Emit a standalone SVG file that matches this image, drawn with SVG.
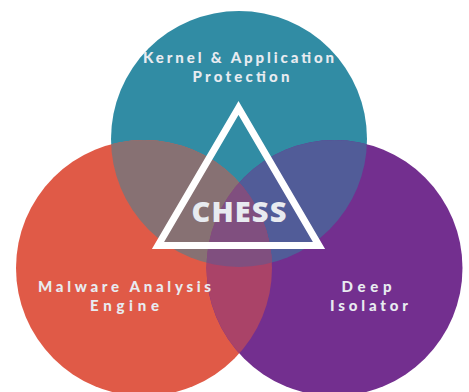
<svg xmlns="http://www.w3.org/2000/svg" width="469" height="392" viewBox="0 0 469 392">
<defs>
<clipPath id="cT"><circle cx="239" cy="139" r="128"/></clipPath>
<clipPath id="cO"><circle cx="144" cy="268" r="128"/></clipPath>
<style>
.lbl{font-family:Lato,"Open Sans","Liberation Sans",sans-serif;font-weight:900;font-size:15px;fill:#E8EBF0;text-anchor:middle}
.title{font-family:"Open Sans","Liberation Sans",sans-serif;font-weight:800;font-size:29px;fill:#E8EBF0;text-anchor:middle}
</style>
</defs>
<rect width="469" height="392" fill="#ffffff"/>
<g id="kernel">
<circle cx="239" cy="139" r="128" fill="#318CA4"/>
</g>
<g id="malware">
<circle cx="144" cy="268" r="128" fill="#E05A47"/>
</g>
<g id="isolator">
<circle cx="334.5" cy="268" r="128" fill="#732F8F"/>
</g>
<g id="overlaps">
<circle cx="144" cy="268" r="128" fill="#877173" clip-path="url(#cT)"/>
<circle cx="334.5" cy="268" r="128" fill="#515C98" clip-path="url(#cT)"/>
<circle cx="334.5" cy="268" r="128" fill="#AA4368" clip-path="url(#cO)"/>
<g clip-path="url(#cT)"><circle cx="334.5" cy="268" r="128" fill="#804F7F" clip-path="url(#cO)"/></g>
</g>
<g id="chess">
<polygon points="238.5,108 158,245.5 319,245.5" fill="none" stroke="#ffffff" stroke-width="7" stroke-linejoin="miter"/>
<text class="title" x="239" y="221.5" textLength="95" lengthAdjust="spacing">CHESS</text>
</g>
<g id="labels">
<text class="lbl" x="238.5" y="63.3" textLength="191" lengthAdjust="spacing">Kernel &amp; Application</text>
<text class="lbl" x="241" y="81.7" textLength="97" lengthAdjust="spacing">Protection</text>
<text class="lbl" x="124.5" y="291.7" textLength="173" lengthAdjust="spacing">Malware Analysis</text>
<text class="lbl" x="124.5" y="310.7" textLength="69" lengthAdjust="spacing">Engine</text>
<text class="lbl" x="366.5" y="291.5" textLength="50" lengthAdjust="spacing">Deep</text>
<text class="lbl" x="369" y="311" textLength="78" lengthAdjust="spacing">Isolator</text>
</g>
</svg>
